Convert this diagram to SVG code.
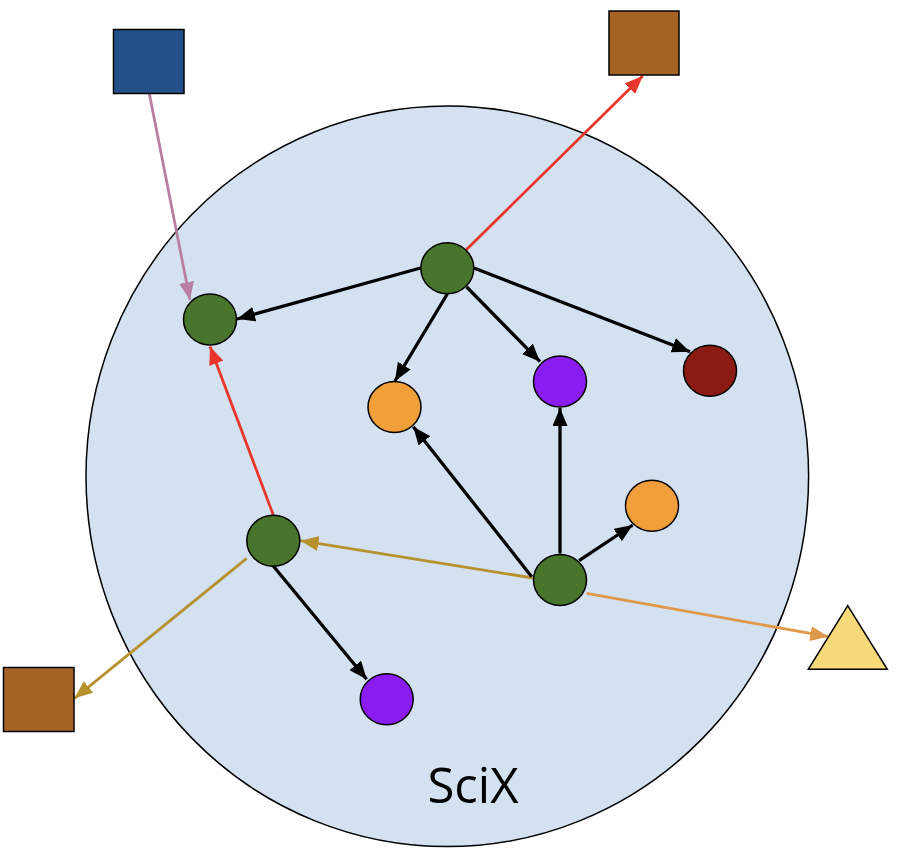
<svg xmlns="http://www.w3.org/2000/svg" width="899" height="866" viewBox="0 0 899 866">
<style>
.node{stroke:#000;stroke-width:1.5}
.g{fill:#48742C}.o{fill:#F09F3A}.p{fill:#8B1CF0}.dr{fill:#8B1A12}.br{fill:#A66326}.bl{fill:#24508A}.tri{fill:#F7D97A}
.e{fill:none;stroke-width:3.3}
.k{stroke:#000}.r{stroke:#E8372A;stroke-width:2.8}.pk{stroke:#B87FA0;stroke-width:2.8}.gd{stroke:#B8912F;stroke-width:2.8}.or{stroke:#E0994A;stroke-width:2.8}
.lbl{font-family:"Open Sans","Liberation Sans",sans-serif;font-size:49px;fill:#000}
</style>
<defs>
<marker id="mk" markerUnits="userSpaceOnUse" viewBox="0 0 18 15" markerWidth="18" markerHeight="15" refX="18" refY="7.5" orient="auto"><path d="M0,0L18,7.5L0,15z" fill="#000"/></marker>
<marker id="mr" markerUnits="userSpaceOnUse" viewBox="0 0 18 15" markerWidth="18" markerHeight="15" refX="18" refY="7.5" orient="auto"><path d="M0,0L18,7.5L0,15z" fill="#E8372A"/></marker>
<marker id="mp" markerUnits="userSpaceOnUse" viewBox="0 0 18 15" markerWidth="18" markerHeight="15" refX="18" refY="7.5" orient="auto"><path d="M0,0L18,7.5L0,15z" fill="#B87FA0"/></marker>
<marker id="mg" markerUnits="userSpaceOnUse" viewBox="0 0 18 15" markerWidth="18" markerHeight="15" refX="18" refY="7.5" orient="auto"><path d="M0,0L18,7.5L0,15z" fill="#B8912F"/></marker>
<marker id="mo" markerUnits="userSpaceOnUse" viewBox="0 0 18 15" markerWidth="18" markerHeight="15" refX="18" refY="7.5" orient="auto"><path d="M0,0L18,7.5L0,15z" fill="#E0994A"/></marker>
</defs>
<g id="scix">
<ellipse cx="447.3" cy="476.3" rx="361.3" ry="370.3" fill="#D3E1F0" stroke="#000" stroke-width="1.5"/>
<text class="lbl" x="473" y="802.7" text-anchor="middle">SciX</text>
</g>
<g id="connectors">
<line class="e pk" x1="149.3" y1="93.5" x2="190" y2="300" marker-end="url(#mp)"/>
<line class="e k" x1="420.5" y1="268" x2="237" y2="319" marker-end="url(#mk)"/>
<line class="e r" x1="466" y1="250" x2="642.7" y2="76" marker-end="url(#mr)"/>
<line class="e k" x1="447.3" y1="294" x2="395" y2="381" marker-end="url(#mk)"/>
<line class="e k" x1="466.7" y1="287" x2="540" y2="361.7" marker-end="url(#mk)"/>
<line class="e k" x1="474" y1="268" x2="690" y2="351.7" marker-end="url(#mk)"/>
<line class="e r" x1="273.3" y1="515" x2="210" y2="346.5" marker-end="url(#mr)"/>
<line class="e gd" x1="533" y1="578" x2="300.5" y2="540.7" marker-end="url(#mg)"/>
<line class="e gd" x1="246.7" y1="558.3" x2="74.5" y2="698.3" marker-end="url(#mg)"/>
<line class="e k" x1="273.3" y1="566" x2="366.7" y2="679.3" marker-end="url(#mk)"/>
<line class="e k" x1="531.7" y1="576.7" x2="413.3" y2="426.7" marker-end="url(#mk)"/>
<line class="e k" x1="560" y1="553.5" x2="560" y2="408" marker-end="url(#mk)"/>
<line class="e k" x1="579" y1="560.7" x2="632.7" y2="525" marker-end="url(#mk)"/>
<line class="e or" x1="586.7" y1="593.3" x2="828.3" y2="636.7" marker-end="url(#mo)"/>
</g>
<g id="n-blue"><rect class="node bl" x="113.5" y="29.5" width="70.5" height="64"/></g>
<g id="n-brown-top"><rect class="node br" x="609" y="11" width="70" height="64"/></g>
<g id="n-brown-left"><rect class="node br" x="3.5" y="667.5" width="70.5" height="64"/></g>
<g id="n-triangle"><polygon class="node tri" points="847.7,605.7 887.3,669.3 808.3,669.3"/></g>
<g id="n-green-a"><ellipse class="node g" cx="210" cy="319.5" rx="26.5" ry="25.5"/></g>
<g id="n-green-b"><ellipse class="node g" cx="447.3" cy="268.3" rx="26.5" ry="25.5"/></g>
<g id="n-green-c"><ellipse class="node g" cx="273.3" cy="540.7" rx="26.5" ry="25.5"/></g>
<g id="n-green-d"><ellipse class="node g" cx="560" cy="580" rx="26.5" ry="25.5"/></g>
<g id="n-orange-1"><ellipse class="node o" cx="394.5" cy="407" rx="26.5" ry="25.5"/></g>
<g id="n-orange-2"><ellipse class="node o" cx="652" cy="505.7" rx="26.5" ry="25.5"/></g>
<g id="n-purple-1"><ellipse class="node p" cx="560" cy="381.5" rx="26.5" ry="25.5"/></g>
<g id="n-purple-2"><ellipse class="node p" cx="386.7" cy="699.3" rx="26.5" ry="25.5"/></g>
<g id="n-darkred"><ellipse class="node dr" cx="710" cy="370.7" rx="26.5" ry="25.5"/></g>
</svg>
